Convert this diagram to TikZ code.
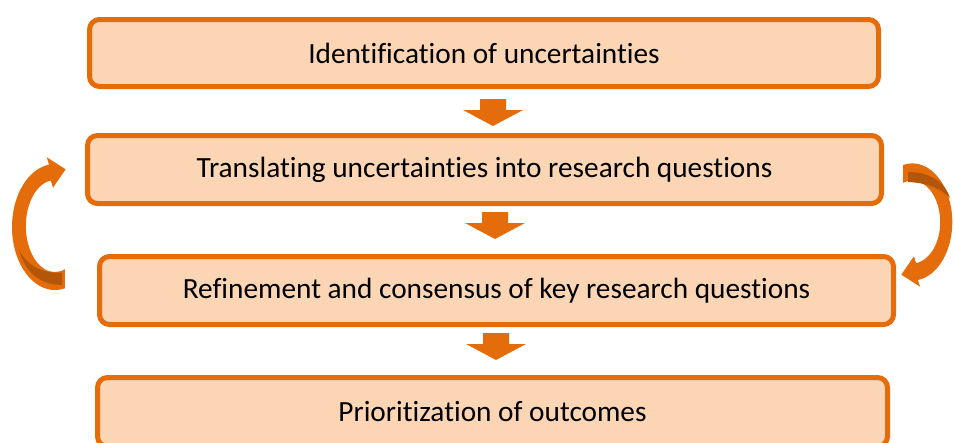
\documentclass[tikz,border=0pt]{standalone}
\usepackage{fontspec}
\setmainfont[Ligatures=NoCommon]{Carlito}
\definecolor{edgeor}{HTML}{E46C0A}
\definecolor{fillor}{HTML}{FCD5B5}
\definecolor{darkor}{HTML}{B4560A}
\tikzset{
  stagebox/.style={draw=edgeor, fill=fillor, line width=5pt, rounded corners=10pt,
    minimum height=68pt, inner sep=0pt, font=\fontsize{29.3}{34}\selectfont, text=black},
  downarrow/.pic={\fill[edgeor] (-13,0) -- (13,0) -- (13,11) -- (30,11) -- (0,27) -- (-30,11) -- (-13,11) -- cycle;}
}
\begin{document}
\begin{tikzpicture}[x=1pt,y=-1pt]
\clip (0,0) rectangle (955,442);
\fill[white] (0,0) rectangle (955,442);
\node[stagebox, minimum width=789pt, minimum height=67pt] (b1) at (484,53) {Identification of uncertainties};
\node[stagebox, minimum width=794pt] (b2) at (484.5,169.5) {Translating uncertainties into research questions};
\node[stagebox, minimum width=794pt] (b3) at (496.5,290.5) {Refinement and consensus of key research questions};
\node[stagebox, minimum width=790pt, minimum height=69pt] (b4) at (492.5,412) {Prioritization of outcomes};
\coordinate (a1) at (493,99);
\coordinate (a2) at (495,212);
\coordinate (a3) at (496,333);
\pic at (a1) {downarrow};
\pic at (a2) {downarrow};
\pic at (a3) {downarrow};
% left curved arrow
\fill[edgeor] (65,288.3) arc[start angle=76.55, end angle=262, x radius=43, y radius=63]
  -- (46.8,157.3) -- (65.6,169.3) -- (53.0,187.7) -- (50.8,180.5)
  arc[start angle=262, end angle=69.9, x radius=29, y radius=46] -- cycle;
\fill[darkor] (62,285) .. controls (40,285) and (25,272) .. (19,250)
  .. controls (27,265) and (40,273) .. (62,273) -- cycle;
% right curved arrow
\fill[edgeor] (903,165) arc[start angle=256.55, end angle=442, x radius=40, y radius=58.6]
  -- (920.1,286.7) -- (901.3,274.7) -- (913.9,256.3) -- (916.1,263.1)
  arc[start angle=442, end angle=250.8, x radius=28, y radius=41.5] -- cycle;
\fill[darkor] (908,172) .. controls (930,172) and (945,182) .. (950,198)
  .. controls (942,190) and (930,183) .. (908,182) -- cycle;
\end{tikzpicture}
\end{document}
